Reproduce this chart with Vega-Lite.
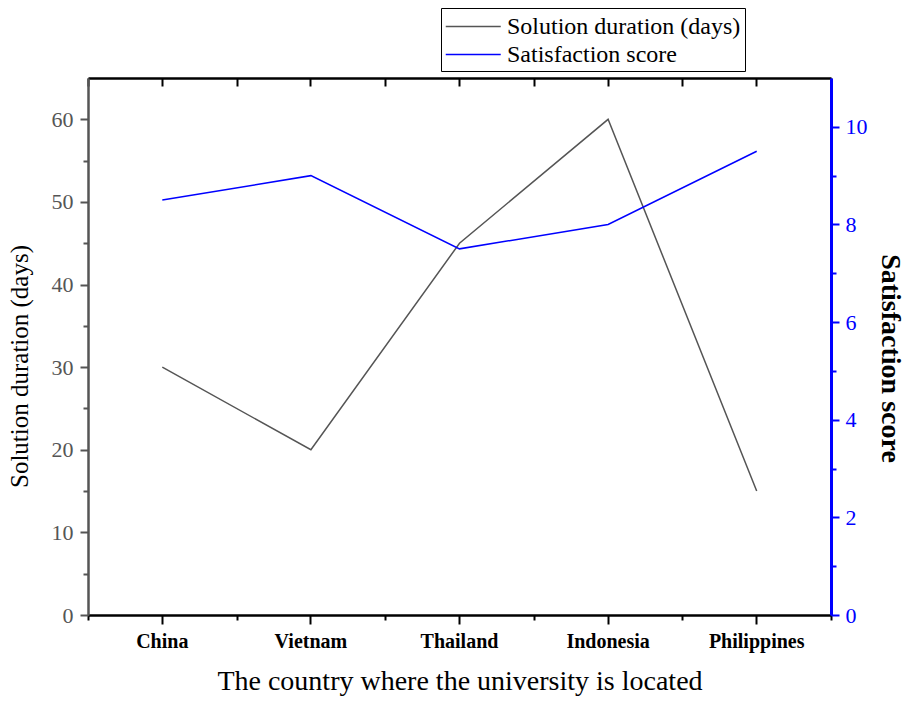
{
  "$schema": "https://vega.github.io/schema/vega-lite/v6.json",
  "autosize": {"type": "none"},
  "padding": {"left": 88, "top": 78, "right": 75, "bottom": 87},
  "width": 743,
  "height": 537,
  "background": "white",
  "config": {
    "font": "Liberation Serif",
    "view": {"stroke": null},
    "axis": {"grid": false}
  },
  "data": {
    "values": [
      {"country": "China", "duration": 30, "satisfaction": 8.5},
      {"country": "Vietnam", "duration": 20, "satisfaction": 9.0},
      {"country": "Thailand", "duration": 45, "satisfaction": 7.5},
      {"country": "Indonesia", "duration": 60, "satisfaction": 8.0},
      {"country": "Philippines", "duration": 15, "satisfaction": 9.5}
    ]
  },
  "layer": [
    {
      "mark": {"type": "line", "strokeWidth": 1.5},
      "encoding": {
        "x": {
          "field": "country", "type": "nominal", "bandPosition": 0.5,
          "sort": ["China", "Vietnam", "Thailand", "Indonesia", "Philippines"],
          "scale": {"type": "band", "paddingInner": 0, "paddingOuter": 0, "domain": ["China", "Vietnam", "Thailand", "Indonesia", "Philippines"]},
          "axis": {
            "orient": "bottom", "title": "The country where the university is located",
            "titleFontSize": 28, "titleFontWeight": "normal", "titleColor": "black", "titlePadding": 16,
            "labelFontSize": 20, "labelFontWeight": "bold", "labelColor": "black", "labelAngle": 0, "labelPadding": 7,
            "tickSize": 9, "tickWidth": 2, "tickColor": "black",
            "domainColor": "black", "domainWidth": 2.5
          }
        },
        "y": {
          "field": "duration", "type": "quantitative",
          "scale": {"domain": [0, 65], "nice": false},
          "axis": {
            "orient": "left", "title": "Solution duration (days)", "values": [0, 10, 20, 30, 40, 50, 60],
            "titleFontSize": 25, "titleFontWeight": "normal", "titleColor": "black", "titlePadding": 19, "titleY": 288,
            "labelFontSize": 22, "labelColor": "#555555", "labelPadding": 7,
            "tickSize": 8, "tickWidth": 2, "tickColor": "#555555",
            "domainColor": "#555555", "domainWidth": 2.5
          }
        },
        "color": {
          "datum": "Solution duration (days)",
          "scale": {"domain": ["Solution duration (days)", "Satisfaction score"], "range": ["#555555", "#0000ff"]},
          "legend": {
            "orient": "none", "legendX": 353, "legendY": -70, "title": null,
            "symbolType": "M-1,0H3", "symbolSize": 756, "symbolStrokeWidth": 1.5,
            "labelFontSize": 24, "labelColor": "black", "labelLimit": 400, "labelOffset": 33,
            "rowPadding": 1, "padding": 4, "strokeColor": "black", "fillColor": "white"
          }
        }
      }
    },
    {
      "mark": {"type": "line", "strokeWidth": 1.5},
      "encoding": {
        "x": {
          "field": "country", "type": "nominal", "bandPosition": 0.5,
          "sort": ["China", "Vietnam", "Thailand", "Indonesia", "Philippines"],
          "scale": {"type": "band", "paddingInner": 0, "paddingOuter": 0, "domain": ["China", "Vietnam", "Thailand", "Indonesia", "Philippines"]},
          "axis": {
            "orient": "top", "title": null, "labels": false,
            "tickSize": -8, "tickWidth": 2, "tickColor": "black",
            "domainColor": "black", "domainWidth": 2.5
          }
        },
        "y": {
          "field": "satisfaction", "type": "quantitative",
          "scale": {"domain": [0, 11], "nice": false},
          "axis": {
            "orient": "right", "title": "Satisfaction score", "values": [0, 2, 4, 6, 8, 10], "titleAngle": 90, "titleY": 280,
            "titleFontSize": 28, "titleFontWeight": "bold", "titleColor": "black", "titlePadding": 8,
            "labelFontSize": 22, "labelColor": "#0000ff", "labelPadding": 6,
            "tickSize": 8, "tickWidth": 2, "tickColor": "#0000ff",
            "domainColor": "#0000ff", "domainWidth": 3
          }
        },
        "color": {"datum": "Satisfaction score"}
      }
    },
    {
      "mark": {"type": "line", "opacity": 0},
      "encoding": {
        "x": {
          "field": "country", "type": "nominal", "bandPosition": 0.5,
          "sort": ["China", "Vietnam", "Thailand", "Indonesia", "Philippines"],
          "scale": {"type": "band", "paddingInner": 0, "paddingOuter": 0, "domain": ["China", "Vietnam", "Thailand", "Indonesia", "Philippines"]},
          "axis": {
            "orient": "bottom", "title": null, "labels": false, "domain": false, "tickBand": "extent",
            "tickSize": 5, "tickWidth": 2, "tickColor": "black"
          }
        },
        "y": {
          "field": "duration", "type": "quantitative",
          "scale": {"domain": [0, 65], "nice": false},
          "axis": {
            "orient": "left", "title": null, "labels": false, "domain": false, "values": [5, 15, 25, 35, 45, 55],
            "tickSize": 5, "tickWidth": 2, "tickColor": "#555555"
          }
        }
      }
    },
    {
      "mark": {"type": "line", "opacity": 0},
      "encoding": {
        "x": {
          "field": "country", "type": "nominal", "bandPosition": 0.5,
          "sort": ["China", "Vietnam", "Thailand", "Indonesia", "Philippines"],
          "scale": {"type": "band", "paddingInner": 0, "paddingOuter": 0, "domain": ["China", "Vietnam", "Thailand", "Indonesia", "Philippines"]},
          "axis": {
            "orient": "top", "title": null, "labels": false, "domain": false, "tickBand": "extent",
            "tickSize": -8, "tickWidth": 2, "tickColor": "black"
          }
        },
        "y": {
          "field": "satisfaction", "type": "quantitative",
          "scale": {"domain": [0, 11], "nice": false},
          "axis": {
            "orient": "right", "title": null, "labels": false, "domain": false, "values": [1, 3, 5, 7, 9],
            "tickSize": 5, "tickWidth": 2, "tickColor": "#0000ff"
          }
        }
      }
    }
  ],
  "resolve": {
    "scale": {"x": "independent", "y": "independent"},
    "axis": {"x": "independent", "y": "independent"}
  }
}
